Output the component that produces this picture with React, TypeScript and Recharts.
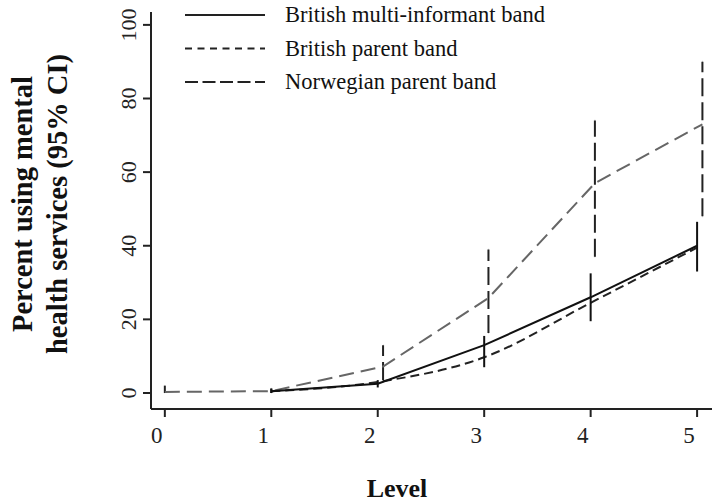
import { LineChart, Line, XAxis, YAxis, ErrorBar, Legend, Label } from "recharts";

// British multi-informant band
const multiLevels = [1, 2, 3, 4, 5];
const multiValues = [0.5, 2.5, 13, 26, 40];
const multiLow = [0, 1.5, 7, 19.5, 33];
const multiHigh = [1.2, 3.5, 15.5, 32.5, 46.5];

// British parent band
const parentLevels = [1, 2, 3, 4, 5];
const parentValues = [0.5, 3, 9.7, 24.5, 39.5];

// Norwegian parent band (plotted slightly to the right of each level)
const norwayLevels = [0, 1, 2.05, 3.04, 4.04, 5.05];
const norwayValues = [0.3, 0.5, 7.2, 25.8, 57, 73];
const norwayLow = [0, 0, 3.5, 16.3, 37, 48];
const norwayHigh = [2, 1.2, 13, 39, 74, 90];

const xTicks = [0, 1, 2, 3, 4, 5];
const yTicks = [0, 20, 40, 60, 80, 100];

const legendItems = [
  { label: "British multi-informant  band", dash: undefined },
  { label: "British parent band", dash: "7 5.5" },
  { label: "Norwegian parent band", dash: "13 4.5" },
];

const multiData = multiLevels.map((x, i) => ({
  x,
  y: multiValues[i],
  err: [multiValues[i] - multiLow[i], multiHigh[i] - multiValues[i]],
}));
const parentData = parentLevels.map((x, i) => ({ x, y: parentValues[i] }));
const norwayData = norwayLevels.map((x, i) => ({
  x,
  y: norwayValues[i],
  err: [norwayValues[i] - norwayLow[i], norwayHigh[i] - norwayValues[i]],
}));

const serif = "'Liberation Serif', 'DejaVu Serif', serif";
const ink = "#222";

const YTick = (props: any) => {
  const x = props.x - 5;
  const y = props.y;
  return (
    <text
      x={x}
      y={y}
      transform={`rotate(-90 ${x} ${y})`}
      textAnchor="middle"
      fontFamily={serif}
      fontSize={22}
      fill={ink}
    >
      {props.payload.value}
    </text>
  );
};

const YTitle = (props: any) => {
  const cy = props.viewBox.y + 192;
  const lines = [
    { text: "Percent using mental", x: 32 },
    { text: "health services (95% CI)", x: 67 },
  ];
  return (
    <g>
      {lines.map((l) => (
        <text
          key={l.text}
          x={l.x}
          y={cy}
          transform={`rotate(-90 ${l.x} ${cy})`}
          textAnchor="middle"
          fontFamily={serif}
          fontWeight="bold"
          fontSize={28.5}
          fill="#111"
        >
          {l.text}
        </text>
      ))}
    </g>
  );
};

const XTitle = (props: any) => (
  <text
    x={props.viewBox.x + 246}
    y={props.viewBox.y + 88}
    textAnchor="middle"
    fontFamily={serif}
    fontWeight="bold"
    fontSize={26}
    fill="#111"
  >
    Level
  </text>
);

const LegendBox = () => (
  <svg width={712} height={100} style={{ display: "block" }}>
    {legendItems.map((item, i) => {
      const lineY = 15 + i * 33.5;
      return (
        <g key={item.label}>
          <line
            x1={185}
            x2={265}
            y1={lineY}
            y2={lineY}
            stroke={ink}
            strokeWidth={2}
            strokeDasharray={item.dash}
          />
          <text x={285} y={lineY + 7} fontFamily={serif} fontSize={22.5} fill="#111">
            {item.label}
          </text>
        </g>
      );
    })}
  </svg>
);

export default function App() {
  return (
    <div style={{ position: "absolute", left: 0, top: 0, background: "#fff" }}>
      <LineChart width={712} height={503} margin={{ top: 12, right: 0, bottom: 0, left: 0 }}>
        <XAxis
          type="number"
          dataKey="x"
          domain={[-0.13, 5.14]}
          ticks={xTicks}
          allowDataOverflow
          height={94}
          tickSize={8}
          tickMargin={10}
          stroke={ink}
          strokeWidth={2}
          tick={{ fill: ink, fontFamily: serif, fontSize: 23, dx: -8 }}
        >
          <Label content={XTitle} />
        </XAxis>
        <YAxis
          type="number"
          domain={[-4.35, 103.5]}
          ticks={yTicks}
          allowDataOverflow
          width={151}
          tickSize={8}
          stroke={ink}
          strokeWidth={2}
          tick={YTick}
        >
          <Label content={YTitle} />
        </YAxis>
        <Legend
          layout="vertical"
          verticalAlign="middle"
          align="center"
          wrapperStyle={{ position: "absolute", top: 0, left: 0, width: 712 }}
          content={LegendBox}
        />
        <Line
          data={norwayData}
          dataKey="y"
          type="linear"
          stroke="#666"
          strokeWidth={2}
          strokeDasharray="15 7"
          dot={false}
          isAnimationActive={false}
        >
          <ErrorBar
            dataKey="err"
            direction="y"
            width={0}
            stroke={ink}
            strokeWidth={2}
            strokeDasharray="18 6"
            isAnimationActive={false}
          />
        </Line>
        <Line
          data={parentData}
          dataKey="y"
          type="monotone"
          stroke={ink}
          strokeWidth={2}
          strokeDasharray="9 5"
          dot={false}
          isAnimationActive={false}
        />
        <Line
          data={multiData}
          dataKey="y"
          type="linear"
          stroke="#111"
          strokeWidth={2}
          dot={false}
          isAnimationActive={false}
        >
          <ErrorBar
            dataKey="err"
            direction="y"
            width={0}
            stroke="#111"
            strokeWidth={2}
            isAnimationActive={false}
          />
        </Line>
      </LineChart>
    </div>
  );
}
